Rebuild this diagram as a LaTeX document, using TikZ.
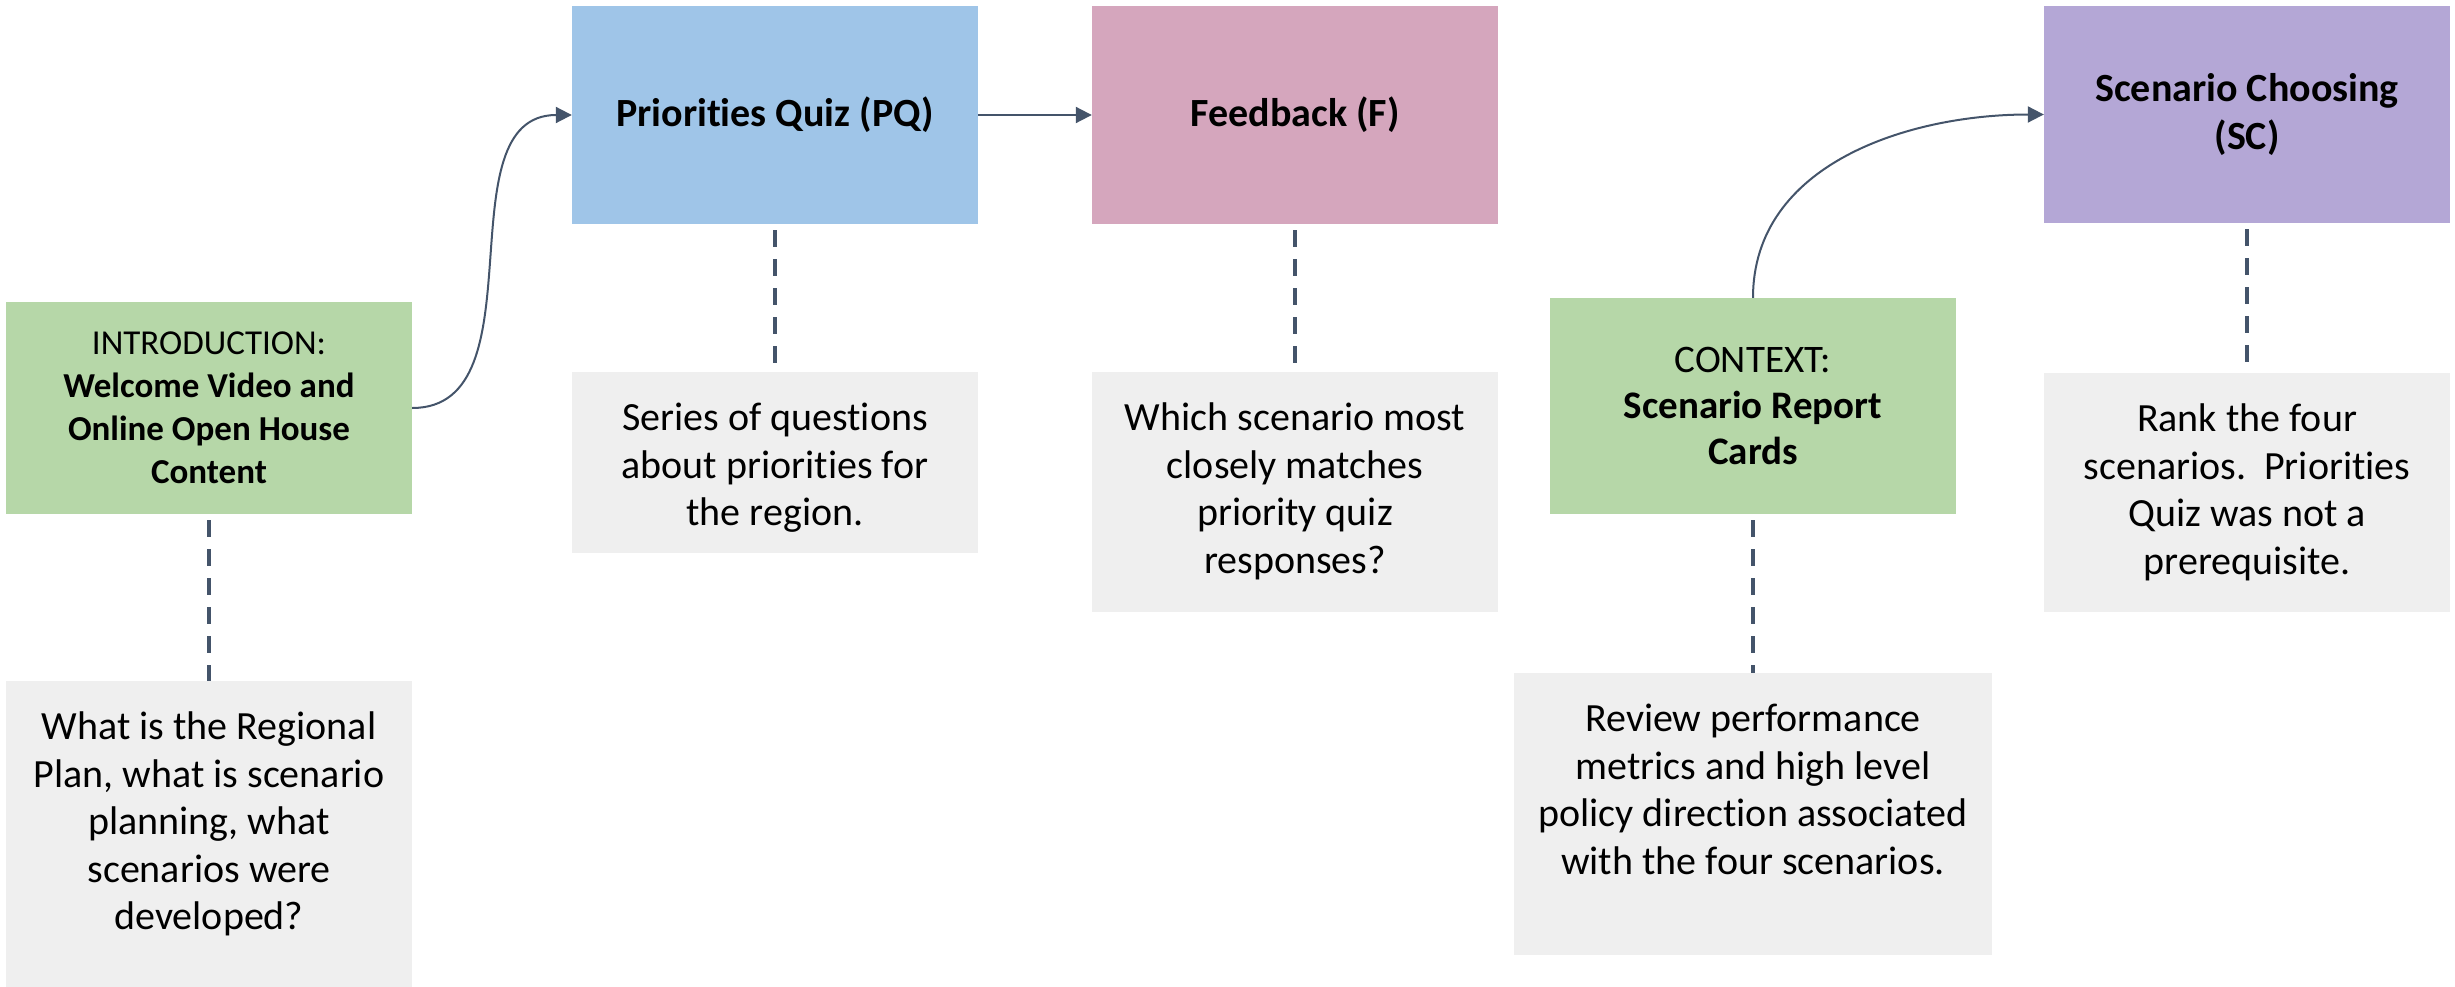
\documentclass[tikz,border=0pt]{standalone}
\usepackage{fontspec}
\setmainfont{Carlito}[Ligatures=NoCommon]
\usetikzlibrary{arrows.meta}
\definecolor{cgreen}{HTML}{B6D7A8}
\definecolor{cblue}{HTML}{9FC5E8}
\definecolor{cpink}{HTML}{D5A6BD}
\definecolor{cpurple}{HTML}{B4A7D6}
\definecolor{cgray}{HTML}{EFEFEF}
\definecolor{cline}{HTML}{44546A}
\begin{document}
\begin{tikzpicture}[x=1pt,y=-1pt,
  cbox/.style={inner sep=0pt, minimum width=406pt, align=center, font=\fontsize{40}{48}\selectfont},
  gbox/.style={fill=cgray, inner sep=0pt},
  glabel/.style={anchor=north, yshift=-31pt, inner sep=0pt, align=center, font=\fontsize{40}{47.5}\selectfont},
  dashline/.style={draw=cline, line width=4pt, dash pattern=on 17pt off 12pt, dash phase=-6pt},
  arrowline/.style={draw=cline, line width=2pt, -{Triangle[length=16pt,width=16pt]}}
]
\useasboundingbox (0,0) rectangle (2455,987);

% top-row boxes
\node[cbox, fill=cblue, minimum height=218pt] (pq) at (775,115) {\textbf{Priorities Quiz (PQ)}};
\node[cbox, fill=cpink, minimum height=218pt] (fb) at (1295,115) {\textbf{Feedback (F)}};
\node[cbox, fill=cpurple, minimum height=217pt] (sc) at (2247,114.5) {\textbf{Scenario Choosing}\\\textbf{(SC)}};

% green boxes
\node[cbox, fill=cgreen, minimum height=212pt, font=\fontsize{35}{43}\selectfont] (intro) at (209,408)
  {INTRODUCTION:\\\textbf{Welcome Video and}\\\textbf{Online Open House}\\\textbf{Content}};
\node[cbox, fill=cgreen, minimum height=216pt, font=\fontsize{39}{46}\selectfont] (ctx) at (1753,406)
  {CONTEXT:\\\textbf{Scenario Report}\\\textbf{Cards}};

% gray description boxes
\node[gbox, minimum width=406pt, minimum height=306pt,
  label={[glabel]north:{What is the Regional\\Plan, what is scenario\\planning, what\\scenarios were\\developed?}}] (ig) at (209,834) {};
\node[gbox, minimum width=406pt, minimum height=181pt,
  label={[glabel]north:{Series of questions\\about priorities for\\the region.}}] (pqg) at (775,462.5) {};
\node[gbox, minimum width=406pt, minimum height=240pt,
  label={[glabel]north:{Which scenario most\\closely matches\\priority quiz\\responses?}}] (fbg) at (1295,492) {};
\node[gbox, minimum width=478pt, minimum height=282pt,
  label={[glabel]north:{Review performance\\metrics and high level\\policy direction associated\\with the four scenarios.}}] (ctxg) at (1753,814) {};
\node[gbox, minimum width=406pt, minimum height=239pt,
  label={[glabel]north:{Rank the four\\scenarios.\ \ Priorities\\Quiz was not a\\prerequisite.}}] (scg) at (2247,492.5) {};

% dashed links
\draw[dashline] (intro.south) -- (ig.north);
\draw[dashline] (pq.south) -- (pqg.north);
\draw[dashline] (fb.south) -- (fbg.north);
\draw[dashline] (ctx.south) -- (ctxg.north);
\draw[dashline] (sc.south) -- (scg.north);

% arrows
\draw[arrowline] (intro.east) to[out=0,in=180] (pq.west);
\draw[arrowline] (pq.east) -- (fb.west);
\draw[arrowline] (ctx.north) to[out=90,in=180] (sc.west);
\end{tikzpicture}
\end{document}
